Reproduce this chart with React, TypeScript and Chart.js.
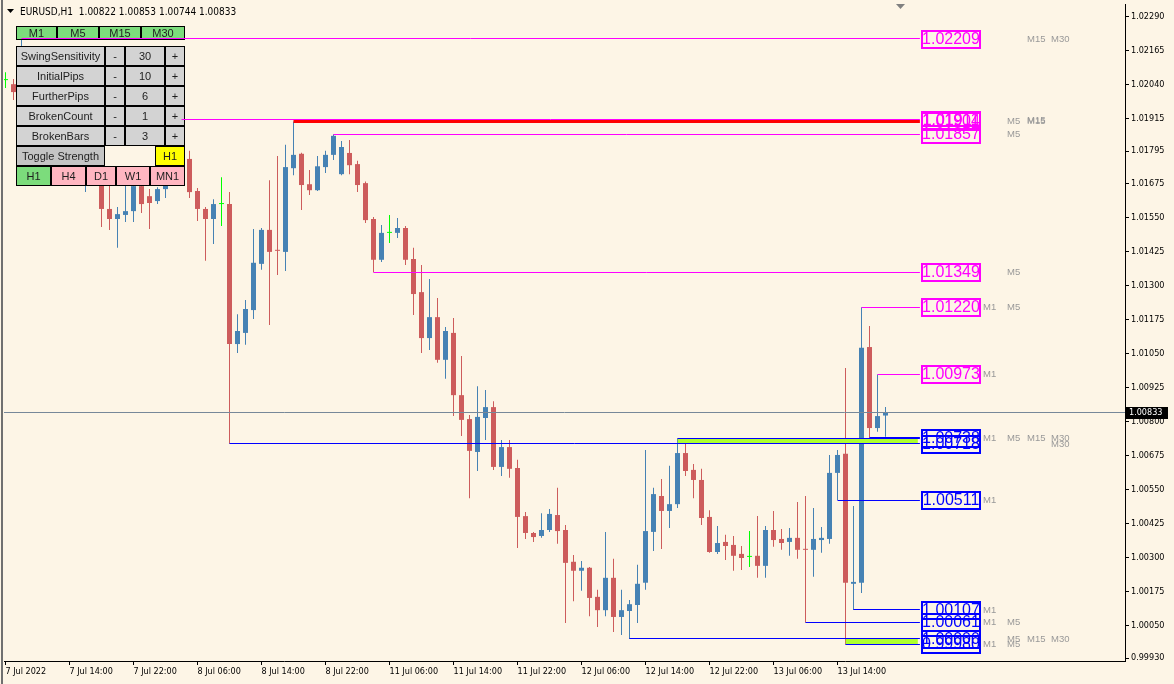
import React, { useEffect, useRef } from 'react';
import { Chart, registerables } from 'chart.js';

Chart.register(...registerables);

// ---------------- data ----------------
const symbolTitle = 'EURUSD,H1';

const timeTickIndex = [0, 8, 16, 24, 32, 40, 48, 56, 64, 72, 80, 88, 96, 104];
const timeTickLabels = [
  '7 Jul 2022', '7 Jul 14:00', '7 Jul 22:00', '8 Jul 06:00', '8 Jul 14:00', '8 Jul 22:00',
  '11 Jul 06:00', '11 Jul 14:00', '11 Jul 22:00', '12 Jul 06:00', '12 Jul 14:00', '12 Jul 22:00',
  '13 Jul 06:00', '13 Jul 14:00',
];

const priceTicks = [
  1.0229, 1.02165, 1.0204, 1.01915, 1.01795, 1.01675, 1.0155, 1.01425, 1.013, 1.01175,
  1.0105, 1.00925, 1.008, 1.00675, 1.0055, 1.00425, 1.003, 1.00175, 1.0005, 0.9993,
];

const opens = [
  1.02056, 1.02041, 1.02012, 1.02129, 1.02038, 1.01946, 1.01983, 1.0188, 1.01818, 1.01854,
  1.01703, 1.01762, 1.01717, 1.01582, 1.01545, 1.0156, 1.01574, 1.01666, 1.01629, 1.01611,
  1.01655, 1.01695, 1.01732, 1.01766, 1.01648, 1.01582, 1.01545, 1.016, 1.016, 1.01085,
  1.01126, 1.0121, 1.0138, 1.01505, 1.01431, 1.01424, 1.01732, 1.01785, 1.01673, 1.01651,
  1.01736, 1.01781, 1.0171, 1.01788, 1.01747, 1.01677, 1.01545, 1.01395, 1.01494, 1.01494,
  1.01512, 1.01398, 1.01276, 1.01107, 1.01184, 1.01027, 1.01126, 1.00897, 1.00809, 1.00688,
  1.00813, 1.00853, 1.00633, 1.00706, 1.00629, 1.00452, 1.0039, 1.00379, 1.00401, 1.00456,
  1.00401, 1.00284, 1.00251, 1.00262, 1.00155, 1.00106, 1.00225, 1.00081, 1.00103, 1.00125,
  1.00207, 1.00394, 1.00526, 1.00471, 1.00496, 1.00684, 1.00622, 1.00585, 1.00449, 1.0032,
  1.00357, 1.00346, 1.00313, 1.00302, 1.00306, 1.00269, 1.00401, 1.00368, 1.00357, 1.00372,
  1.00331, 1.00328, 1.00364, 1.00368, 1.00611, 1.00681, 1.00203, 1.00207, 1.01074, 1.00776,
  1.00822,
];
const highs = [
  1.02085, 1.0206, 1.02209, 1.02167, 1.02063, 1.02001, 1.02012, 1.01909, 1.0188, 1.01873,
  1.01799, 1.01792, 1.01743, 1.01688, 1.01589, 1.01688, 1.01688, 1.01681, 1.01655, 1.01662,
  1.01717, 1.01762, 1.01911, 1.01796, 1.01659, 1.01589, 1.01618, 1.01699, 1.01644, 1.01195,
  1.01247, 1.01508, 1.01512, 1.01688, 1.01777, 1.01818, 1.01904, 1.01789, 1.01725, 1.01777,
  1.01796, 1.01857, 1.01832, 1.01836, 1.01759, 1.01683, 1.01552, 1.01523, 1.0156, 1.01549,
  1.01519, 1.01439, 1.01376, 1.01324, 1.01254, 1.01148, 1.01181, 1.01041, 1.00824, 1.0093,
  1.00916, 1.00875, 1.00732, 1.00732, 1.00659, 1.00467, 1.00394, 1.00463, 1.00478, 1.00556,
  1.00419, 1.00309, 1.00287, 1.00265, 1.00181, 1.00394, 1.00295, 1.00181, 1.00143, 1.00273,
  1.00695, 1.00556, 1.00589, 1.00637, 1.00738, 1.00729, 1.00644, 1.00626, 1.00474, 1.00416,
  1.00383, 1.00379, 1.00342, 1.00397, 1.00452, 1.00416, 1.00471, 1.00405, 1.00408, 1.00504,
  1.00526, 1.00482, 1.00412, 1.00677, 1.00695, 1.00997, 1.00489, 1.0122, 1.01151, 1.00973,
  1.00853,
];
const lows = [
  1.02027, 1.01983, 1.01997, 1.02019, 1.01917, 1.01909, 1.01854, 1.01799, 1.01792, 1.01695,
  1.01644, 1.01681, 1.01516, 1.01505, 1.01439, 1.01534, 1.01534, 1.01567, 1.01508, 1.016,
  1.01622, 1.01681, 1.01706, 1.01622, 1.01538, 1.01391, 1.01453, 1.01519, 1.00718, 1.01052,
  1.01082, 1.01177, 1.01358, 1.01155, 1.01339, 1.01354, 1.01706, 1.01578, 1.01633, 1.01648,
  1.01714, 1.01762, 1.01706, 1.0171, 1.01644, 1.0153, 1.01349, 1.01387, 1.01457, 1.01475,
  1.01376, 1.01192, 1.01052, 1.01063, 1.01016, 1.00957, 1.0082, 1.00747, 1.00518, 1.00618,
  1.00732, 1.00622, 1.006, 1.00593, 1.00335, 1.00368, 1.00357, 1.00372, 1.00394, 1.0035,
  1.00059, 1.00139, 1.00177, 1.00084, 1.00044, 1.00084, 1.00026, 1.00015, 1.0, 1.00059,
  1.00181, 1.00324, 1.00331, 1.00408, 1.00482, 1.006, 1.00518, 1.00419, 1.00317, 1.00313,
  1.00291, 1.00251, 1.00254, 1.00265, 1.00225, 1.00225, 1.00339, 1.00328, 1.00306, 1.00295,
  1.00061, 1.00229, 1.00317, 1.0035, 1.00511, 0.9998, 1.00107, 1.00169, 1.0074, 1.00762,
  1.00744,
];
const closes = [
  1.02056, 1.02012, 1.02129, 1.02038, 1.01946, 1.01983, 1.0188, 1.01818, 1.01854, 1.01706,
  1.01762, 1.01717, 1.01582, 1.01545, 1.01563, 1.01574, 1.01666, 1.016, 1.01604, 1.01655,
  1.01695, 1.01732, 1.0177, 1.01644, 1.01582, 1.01545, 1.016, 1.016, 1.01085, 1.01133,
  1.01214, 1.01384, 1.01505, 1.01424, 1.01428, 1.01736, 1.01781, 1.0167, 1.01651, 1.01739,
  1.01781, 1.01851, 1.0181, 1.01743, 1.0167, 1.01541, 1.01395, 1.01494, 1.01494, 1.01512,
  1.01395, 1.01269, 1.01107, 1.01184, 1.01027, 1.01133, 1.00897, 1.00806, 1.00692, 1.00817,
  1.00853, 1.00633, 1.00706, 1.00626, 1.00449, 1.0039, 1.00375, 1.00401, 1.0046, 1.00397,
  1.0028, 1.00251, 1.00262, 1.00151, 1.00106, 1.00225, 1.00081, 1.00106, 1.00128, 1.00203,
  1.00397, 1.00533, 1.00471, 1.00496, 1.00684, 1.00618, 1.00585, 1.00445, 1.0032, 1.00353,
  1.00342, 1.00306, 1.00298, 1.00302, 1.00269, 1.00401, 1.00364, 1.00353, 1.00372, 1.00328,
  1.00328, 1.00368, 1.00372, 1.00611, 1.00677, 1.00207, 1.0021, 1.01071, 1.00776, 1.0082,
  1.00833,
];

// swing levels found by the indicator
const levelPrices = [1.02209, 1.01911, 1.01904, 1.01857, 1.01349, 1.0122, 1.00973, 1.0074, 1.00738, 1.00718, 1.00511, 1.00107, 1.00061, 1.0, 0.9998];
const levelStartBar = [2, 22, 36, 41, 46, 107, 109, 108, 84, 28, 104, 106, 100, 78, 105];
const levelKind = ['R', 'R', 'X', 'R', 'R', 'R', 'R', 'S', 'S', 'S', 'S', 'S', 'S', 'S', 'S'];
const levelFrames = [
  ['M15', 'M30'], ['M15'], ['M5', 'M15'], ['M5'], ['M5'], ['M1', 'M5'], ['M1'], [],
  ['M1', 'M5', 'M15', 'M30'], ['M30'], ['M1'], ['M1'], ['M1', 'M5'], ['M5', 'M15', 'M30'], ['M1', 'M5'],
];

const zoneTop = [1.00738, 1.0];
const zoneBottom = [1.00718, 0.9998];
const zoneStartBar = [84, 105];

const panelParamNames = ['SwingSensitivity', 'InitialPips', 'FurtherPips', 'BrokenCount', 'BrokenBars'];
const panelParamValues = [30, 10, 6, 1, 3];
const panelFrames = ['M1', 'M5', 'M15', 'M30'];
const panelPeriods = ['H1', 'H4', 'D1', 'W1', 'MN1'];

// ---------------- style / layout ----------------
const W = 1174;
const H = 684;
const BG = '#FDF5E6';
const BULL = '#4682B4';
const BEAR = '#CD5C5C';
const DOJI = '#00FF00';
const RES = '#FF00FF';
const SUP = '#0000FF';
const STRONG = '#FF0000';
const ZONE = '#ADFF2F';
const PRICE_LINE = '#778899';
const SIDE_TXT = '#999999';
const WINDOW_EDGE = '#707070';
const AXIS_FONT = '"DejaVu Sans Condensed", "DejaVu Sans", sans-serif';
const UI_FONT = '"Liberation Sans", Arial, sans-serif';

const X_MIN = -0.1875;
const X_MAX = 139.9375;
const Y_MIN = 0.99919;
const Y_MAX = 1.02336;
const LINE_END = 114.3; // bar position where level lines stop and boxes begin
const ZONE_END = 114.05;
const SHIFT_MARK = 111.875;
const FRAME_COL: Record<string, number> = { M1: 2, M5: 26, M15: 46, M30: 70 };

const GREEN_BTN = '#7CDC7C';
const GRAY_BTN = '#D3D3D3';
const DARK_BTN = '#C4C4C4';
const PINK_BTN = '#FFB6C1';
const YELLOW_BTN = '#FFFF00';

type Btn = [number, number, number, number, string, string];
function panelButtons(): Btn[] {
  const b: Btn[] = [];
  const fx = [16, 57, 99, 141];
  const fw = [41, 42, 42, 44];
  panelFrames.forEach((t, k) => b.push([fx[k], 26, fw[k], 14, t, GREEN_BTN]));
  panelParamNames.forEach((n, k) => {
    const y = 46 + 20 * k;
    b.push([16, y, 89, 20, n, GRAY_BTN]);
    b.push([105, y, 20, 20, '-', GRAY_BTN]);
    b.push([125, y, 40, 20, String(panelParamValues[k]), GRAY_BTN]);
    b.push([165, y, 20, 20, '+', GRAY_BTN]);
  });
  b.push([16, 146, 89, 20, 'Toggle Strength', DARK_BTN]);
  b.push([155, 146, 30, 20, 'H1', YELLOW_BTN]);
  const px = [16, 51, 86, 116, 150];
  const pw = [35, 35, 30, 34, 35];
  panelPeriods.forEach((t, k) => b.push([px[k], 166, pw[k], 20, t, k === 0 ? GREEN_BTN : PINK_BTN]));
  return b;
}

const fmt = (v: number) => v.toFixed(5);
const kindColor = (k: string) => (k === 'S' ? SUP : k === 'X' ? STRONG : RES);
const boxColor = (k: string) => (k === 'S' ? SUP : RES);

export default function App() {
  const ref = useRef<HTMLCanvasElement>(null);

  useEffect(() => {
    const canvas = ref.current;
    if (!canvas) return;
    const n = opens.length;
    const candleColor = opens.map((o, i) => (closes[i] > o ? BULL : closes[i] < o ? BEAR : DOJI));

    const datasets: any[] = [];
    datasets.push({
      type: 'bar', label: 'wicks',
      data: opens.map((_, i) => ({ x: i, y: [lows[i], highs[i]] })),
      backgroundColor: candleColor, barThickness: 1, grouped: false, borderWidth: 0,
      inflateAmount: 0, order: 20,
    });
    datasets.push({
      type: 'bar', label: 'bodies',
      data: opens.map((o, i) => ({ x: i, y: [o, closes[i]] })),
      backgroundColor: candleColor, barThickness: 5, grouped: false, borderWidth: 0,
      inflateAmount: 0, minBarLength: 1, order: 19,
    });
    datasets.push({
      type: 'line', label: 'price', snapY: closes[n - 1],
      data: [{ x: X_MIN, y: closes[n - 1] }, { x: X_MAX, y: closes[n - 1] }],
      borderColor: PRICE_LINE, borderWidth: 1, pointRadius: 0, fill: false, order: 12,
    });
    zoneTop.forEach((t, k) => {
      datasets.push({
        type: 'line', label: 'zoneTop' + k,
        data: [{ x: zoneStartBar[k], y: t }, { x: ZONE_END, y: t }],
        borderWidth: 0, pointRadius: 0, fill: '+1', backgroundColor: ZONE, order: 10,
      });
      datasets.push({
        type: 'line', label: 'zoneBottom' + k,
        data: [{ x: zoneStartBar[k], y: zoneBottom[k] }, { x: ZONE_END, y: zoneBottom[k] }],
        borderWidth: 0, pointRadius: 0, fill: false, order: 10,
      });
    });
    levelPrices.forEach((p, k) => {
      const strong = levelKind[k] === 'X';
      datasets.push({
        type: 'line', label: 'level' + k, snapY: p,
        data: [{ x: levelStartBar[k], y: p }, { x: LINE_END, y: p }],
        borderColor: kindColor(levelKind[k]), borderWidth: strong ? 3 : 1,
        pointRadius: 0, fill: false, order: strong ? 4 : 5,
      });
    });

    const overlay = {
      id: 'mt4overlay',
      beforeDraw(chart: any) {
        const c = chart.ctx;
        c.save();
        c.fillStyle = BG;
        c.fillRect(0, 0, chart.width, chart.height);
        c.restore();
      },
      beforeDatasetDraw(chart: any, args: any) {
        const ds = chart.data.datasets[args.index];
        if (typeof ds.snapY !== 'number') return;
        const py = chart.scales.y.getPixelForValue(ds.snapY);
        const target = ds.borderWidth % 2 === 1 ? Math.round(py - 0.5) + 0.5 : Math.round(py);
        chart.ctx.save();
        chart.ctx.translate(0, target - py);
      },
      afterDatasetDraw(chart: any, args: any) {
        const ds = chart.data.datasets[args.index];
        if (typeof ds.snapY === 'number') chart.ctx.restore();
        if (args.index !== 1) return;
        const c = chart.ctx;
        c.save();
        c.font = `11px ${UI_FONT}`;
        c.textAlign = 'center';
        c.textBaseline = 'middle';
        for (const [x, y, w, h, t, bg] of panelButtons()) {
          c.fillStyle = bg;
          c.fillRect(x, y, w, h);
          c.strokeStyle = '#000';
          c.lineWidth = 1;
          c.strokeRect(x + 0.5, y + 0.5, w - 1, h - 1);
          c.fillStyle = '#1E1E1E';
          c.fillText(t, x + w / 2, y + h / 2 + 1);
        }
        c.restore();
      },
      afterDraw(chart: any) {
        const c = chart.ctx;
        const xs = chart.scales.x;
        const ys = chart.scales.y;
        const area = chart.chartArea;
        c.save();
        // level boxes + timeframe tags
        const bx = Math.round(xs.getPixelForValue(LINE_END)) + 1;
        levelPrices.forEach((p, k) => {
          const py = Math.round(ys.getPixelForValue(p));
          const col = boxColor(levelKind[k]);
          if (levelFrames[k].length) {
            c.strokeStyle = col;
            c.lineWidth = 2;
            c.strokeRect(bx + 1, py - 9 + 1, 60 - 2, 19 - 2);
            c.fillStyle = col;
            c.font = `16px ${UI_FONT}`;
            c.textAlign = 'center';
            c.textBaseline = 'middle';
            c.fillText(fmt(p), bx + 30, py + 1);
          }
          c.fillStyle = SIDE_TXT;
          c.font = `9.5px ${UI_FONT}`;
          c.textAlign = 'left';
          c.textBaseline = 'middle';
          levelFrames[k].forEach((f) => c.fillText(f, bx + 60 + FRAME_COL[f], py));
        });
        // current price tag on the axis
        const cp = closes[n - 1];
        const cy = Math.round(ys.getPixelForValue(cp));
        c.fillStyle = '#000';
        c.fillRect(area.right + 1, cy - 6, 42, 12);
        c.fillStyle = '#FFF';
        c.font = `9px ${AXIS_FONT}`;
        c.textAlign = 'left';
        c.textBaseline = 'middle';
        c.fillText(fmt(cp), area.right + 4, cy);
        // header
        c.fillStyle = '#000';
        c.beginPath();
        c.moveTo(7, 9);
        c.lineTo(14, 9);
        c.lineTo(10.5, 13);
        c.closePath();
        c.fill();
        c.font = `10px ${AXIS_FONT}`;
        c.fillText(
          `${symbolTitle}  ${fmt(opens[n - 1])} ${fmt(highs[n - 1])} ${fmt(lows[n - 1])} ${fmt(closes[n - 1])}`,
          20, 12,
        );
        // chart shift marker
        const sx = xs.getPixelForValue(SHIFT_MARK);
        c.fillStyle = '#808080';
        c.beginPath();
        c.moveTo(sx - 4.5, area.top);
        c.lineTo(sx + 4.5, area.top);
        c.lineTo(sx, area.top + 5);
        c.closePath();
        c.fill();
        // window edge on the left
        c.fillStyle = WINDOW_EDGE;
        c.fillRect(1, 0, 2, chart.height);
        c.restore();
      },
    };

    const chart = new Chart(canvas, {
      type: 'bar',
      data: { datasets },
      options: {
        animation: false,
        responsive: false,
        maintainAspectRatio: false,
        devicePixelRatio: 1,
        events: [],
        layout: { padding: { left: 4, top: 4, right: 0, bottom: 0 } },
        plugins: { legend: { display: false }, tooltip: { enabled: false }, title: { display: false } },
        scales: {
          x: {
            type: 'linear', min: X_MIN, max: X_MAX, offset: false,
            afterBuildTicks: (s: any) => { s.ticks = timeTickIndex.map((v) => ({ value: v })); },
            afterFit: (s: any) => { s.height = 23; s.paddingLeft = 0; s.paddingRight = 0; s.paddingTop = 0; s.paddingBottom = 0; },
            grid: { display: true, drawOnChartArea: false, drawTicks: true, tickLength: 4, offset: false, color: '#000', tickColor: '#000' },
            border: { display: true, color: '#000', width: 1 },
            ticks: {
              autoSkip: false, maxRotation: 0, minRotation: 0, align: 'start', padding: 1, color: '#000',
              font: { family: AXIS_FONT, size: 9 },
              callback: (v: any) => { const k = timeTickIndex.indexOf(Number(v)); return k >= 0 ? timeTickLabels[k] : ''; },
            },
          },
          y: {
            type: 'linear', position: 'right', min: Y_MIN, max: Y_MAX,
            afterBuildTicks: (s: any) => { s.ticks = priceTicks.map((v) => ({ value: v })); },
            afterFit: (s: any) => { s.width = 49; s.paddingTop = 0; s.paddingBottom = 0; s.paddingLeft = 0; s.paddingRight = 0; },
            grid: { display: true, drawOnChartArea: false, drawTicks: true, tickLength: 4, color: '#000', tickColor: '#000' },
            border: { display: true, color: '#000', width: 1 },
            ticks: {
              autoSkip: false, padding: 2, color: '#000',
              font: { family: AXIS_FONT, size: 9 },
              callback: (v: any) => Number(v).toFixed(5),
            },
          },
        },
      },
      plugins: [overlay],
    } as any);

    return () => chart.destroy();
  }, []);

  return (
    <div style={{ position: 'fixed', left: 0, top: 0, width: W, height: H, background: BG }}>
      <canvas ref={ref} width={W} height={H} style={{ display: 'block', width: W, height: H }} />
    </div>
  );
}
